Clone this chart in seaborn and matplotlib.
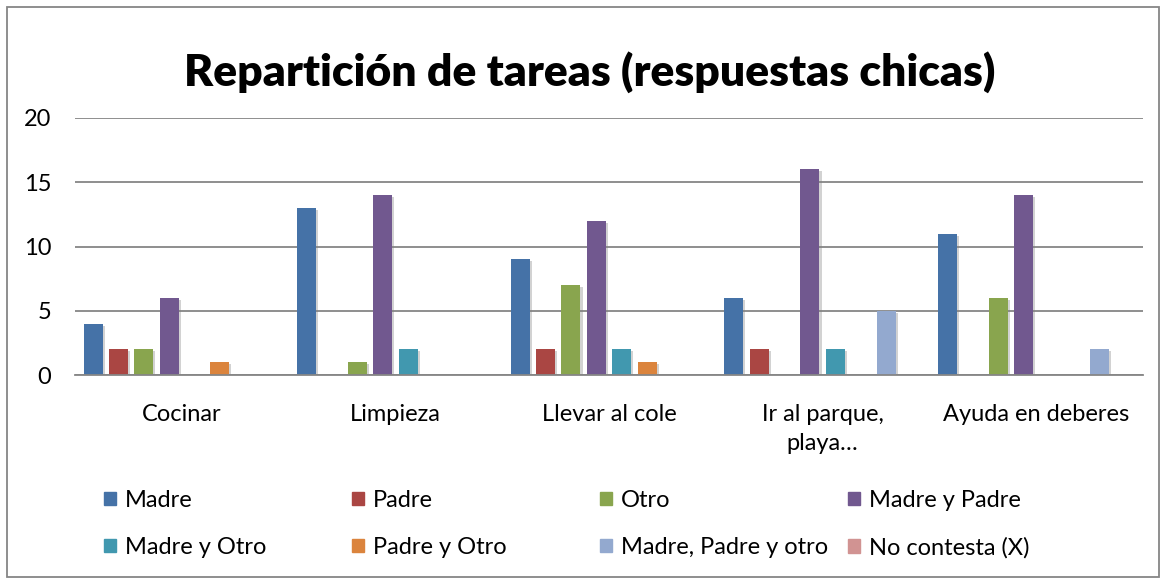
import pandas as pd
import matplotlib.pyplot as plt
import matplotlib.patches as mpatches
import matplotlib.patheffects as pe
import seaborn as sns

# ---------------------------------------------
# Data
# ---------------------------------------------
categories = ["Cocinar", "Limpieza", "Llevar al cole", "Ir al parque,\nplaya…", "Ayuda en deberes"]
series = ["Madre", "Padre", "Otro", "Madre y Padre",
          "Madre y Otro", "Padre y Otro", "Madre, Padre y otro", "No contesta (X)"]

madre = [4, 13, 9, 6, 11]
padre = [2, 0, 2, 2, 0]
otro = [2, 1, 7, 0, 6]
madre_padre = [6, 14, 12, 16, 14]
madre_otro = [0, 2, 2, 2, 0]
padre_otro = [1, 0, 1, 0, 0]
madre_padre_otro = [0, 0, 0, 5, 2]
no_contesta = [0, 0, 0, 0, 0]

colors = ["#4572A7", "#AA4643", "#89A54E", "#71588F",
          "#4198AF", "#DB843D", "#93A9CF", "#D19392"]

values = [madre, padre, otro, madre_padre, madre_otro, padre_otro, madre_padre_otro, no_contesta]
df = pd.DataFrame([
    {"Tarea": c, "Respuesta": s, "N": v}
    for s, vals in zip(series, values)
    for c, v in zip(categories, vals)
])

# ---------------------------------------------
# Plot
# ---------------------------------------------
sns.set_style("white")
plt.rcParams["font.family"] = ["Lato", "DejaVu Sans"]
plt.rcParams["text.color"] = "black"
plt.rcParams["xtick.color"] = "black"
plt.rcParams["ytick.color"] = "black"

W, H = 1166, 579
FS = 17
fig = plt.figure(figsize=(W / 100, H / 100), dpi=100)
ax = fig.add_axes([75 / W, 1 - 375 / H, (1143 - 75) / W, (375 - 118) / H])

sns.barplot(data=df, x="Tarea", y="N", hue="Respuesta", order=categories,
            hue_order=series, palette=colors, width=0.95, gap=0.25,
            saturation=1, legend=False, ax=ax, edgecolor="none")

for bar in ax.patches:
    if bar.get_height() > 0:
        bar.set_path_effects([pe.SimplePatchShadow(offset=(1.5, -1.5), shadow_rgbFace="#808080", alpha=0.35),
                              pe.Normal()])

ax.set_ylim(0, 20)
ax.set_yticks([0, 5, 10, 15, 20])
ax.set_xlim(-0.5, len(categories) - 0.5)
ax.grid(axis="y", color="#868686", linewidth=1.3)
ax.set_axisbelow(True)
for side in ["top", "right", "left"]:
    ax.spines[side].set_visible(False)
ax.spines["bottom"].set_color("#868686")
ax.spines["bottom"].set_linewidth(1.3)
ax.set_xlabel("")
ax.set_ylabel("")
ax.tick_params(axis="x", length=0, pad=21, labelsize=FS)
ax.tick_params(axis="y", length=0, pad=17, labelsize=FS)
for lbl in ax.get_xticklabels():
    lbl.set_linespacing(1.45)
    lbl.set_verticalalignment("top")

fig.text(590 / W, 1 - 72 / H, "Repartición de tareas (respuestas chicas)",
         ha="center", va="center", fontsize=32, fontweight="heavy")

# legend: 4 columns, 2 rows, uniform spacing
col_x = [104, 352, 600, 848]
for i, x in enumerate(col_x):
    idx = [i, i + 4]
    handles = [mpatches.Patch(color=colors[j], label=series[j]) for j in idx]
    fig.legend(handles=handles, loc="upper left", bbox_to_anchor=(x / W, 1 - 490 / H),
               frameon=False, fontsize=FS, handlelength=0.5, handleheight=0.5,
               handletextpad=0.4, labelspacing=1.1, borderaxespad=0, borderpad=0)

# outer border
fig.patches.append(mpatches.Rectangle((7 / W, 2 / H), 1 - 14 / W, 1 - 9 / H, transform=fig.transFigure,
                                      fill=False, edgecolor="#868686", linewidth=1.3))

fig.savefig("out.png", dpi=100)
